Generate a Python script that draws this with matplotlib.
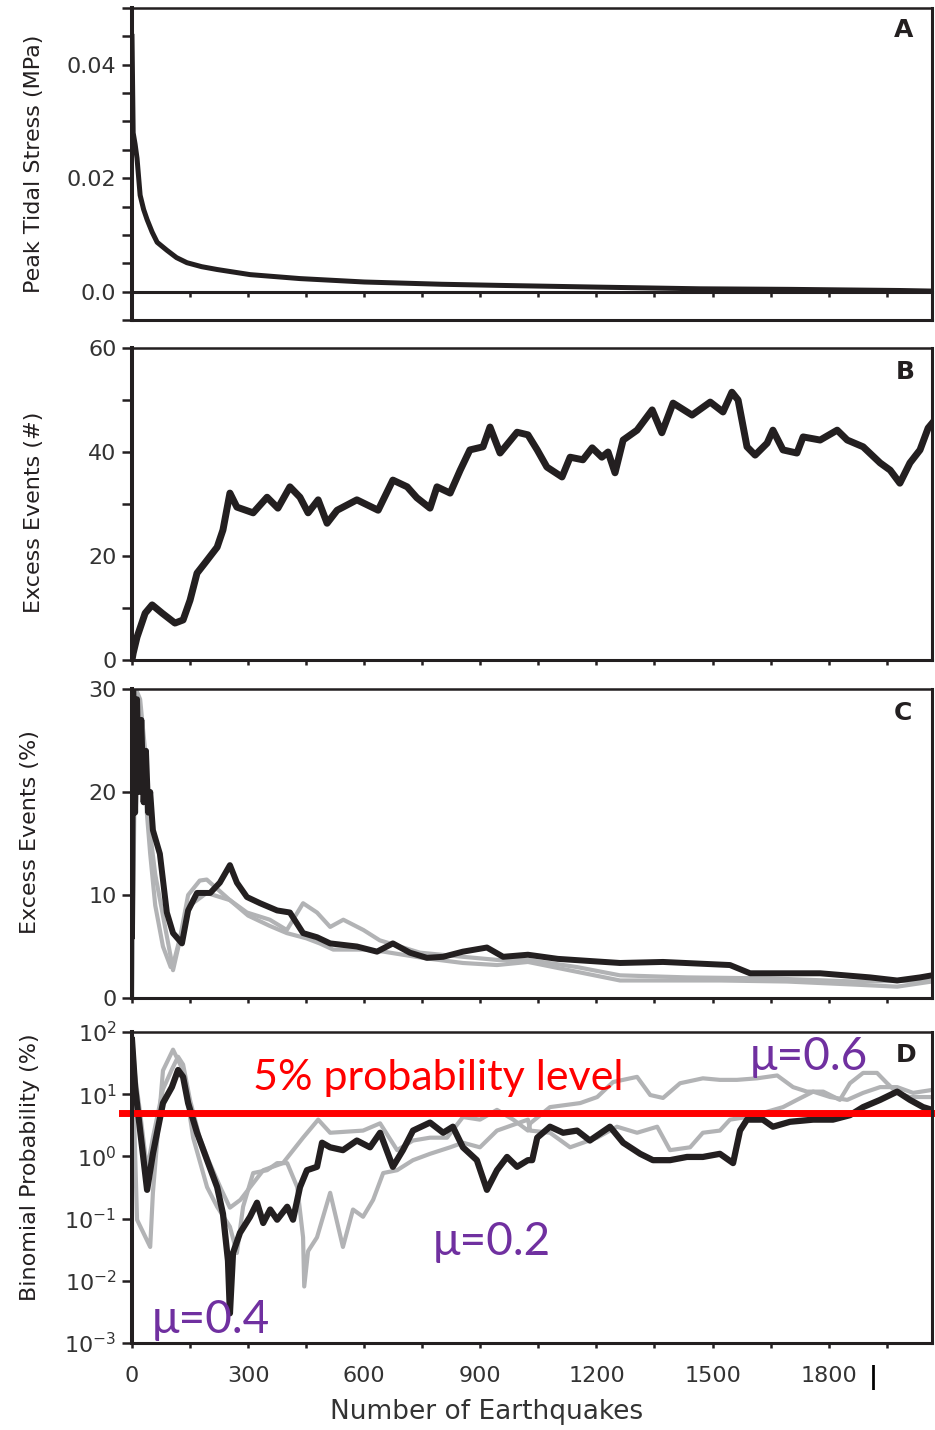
import numpy as np
import matplotlib
matplotlib.use("Agg")
import matplotlib.pyplot as plt
from matplotlib.ticker import NullLocator

# ---- data ----
# A: peak tidal stress (MPa) vs number of earthquakes
a_n = [0, 3, 8, 13, 21, 30, 39, 52, 65, 90, 115, 142, 180, 220, 305, 434,
       600, 800, 950, 1200, 1468, 1700, 1985, 2067]
a_stress = [0.045, 0.028, 0.026, 0.0235, 0.017, 0.0145, 0.0127, 0.0105, 0.0087,
            0.0073, 0.006, 0.0051, 0.0044, 0.0039, 0.003, 0.0023, 0.0017, 0.0013,
            0.0011, 0.0008, 0.0005, 0.0004, 0.0002, 0.0001]

# B: excess events (#)
b_n = [0, 3, 13, 34, 52, 78, 111, 132, 150, 168, 189, 220, 235, 253, 271, 313,
       349, 377, 408, 434, 455, 481, 504, 530, 581, 636, 674, 711, 736, 770, 788,
       822, 848, 873, 907, 925, 951, 995, 1023, 1047, 1072, 1111, 1132, 1165, 1189,
       1214, 1230, 1248, 1269, 1305, 1344, 1369, 1398, 1447, 1494, 1527, 1550, 1566,
       1589, 1610, 1641, 1656, 1682, 1718, 1734, 1778, 1822, 1848, 1889, 1933, 1959,
       1984, 2010, 2036, 2057, 2067]
b_excess = [0, 1.3, 4.4, 9.0, 10.6, 9.0, 7.1, 7.7, 11.5, 16.7, 18.7, 21.7, 25, 32.1,
            29.4, 28.3, 31.3, 29.2, 33.3, 31.3, 28.3, 30.8, 26.3, 28.8, 30.8, 28.8,
            34.6, 33.3, 31.2, 29.2, 33.3, 32.1, 36.5, 40.4, 41, 44.8, 39.8, 43.8, 43.3,
            40.4, 37.1, 35.2, 39, 38.5, 40.8, 39, 40, 36, 42.3, 44.2, 48.1, 43.7, 49.4,
            47.1, 49.6, 47.7, 51.5, 50, 41, 39.4, 41.7, 44.2, 40.4, 39.8, 42.9, 42.3,
            44.2, 42.3, 41, 37.9, 36.5, 34, 37.9, 40.4, 44.6, 45.5]

# C: excess events (%) - black (mu=0.4) and two grey curves
c_n = [0, 3, 8, 13, 18, 24, 30, 36, 42, 47, 54, 72, 90, 106, 129, 145, 168, 202,
       227, 253, 271, 297, 331, 375, 408, 442, 478, 512, 581, 633, 674, 718, 762,
       804, 855, 917, 959, 1023, 1100, 1180, 1261, 1372, 1545, 1597, 1778, 1907,
       1977, 2036, 2067]
c_pct = [6, 30, 18, 29, 20, 27, 19, 24, 18, 20, 16.3, 14, 8.3, 6.3, 5.3, 8.5, 10.2,
         10.2, 11.2, 12.9, 11.2, 9.8, 9.2, 8.5, 8.3, 6.3, 5.9, 5.3, 5.0, 4.5, 5.3,
         4.4, 3.9, 4.0, 4.5, 4.9, 4.0, 4.2, 3.8, 3.6, 3.4, 3.5, 3.2, 2.4, 2.4, 2.0,
         1.7, 2.0, 2.2]
c_grey1_n = [0, 5, 10, 21, 34, 47, 60, 80, 100, 106, 120, 145, 175, 193, 253, 297,
             356, 400, 442, 478, 512, 546, 598, 640, 692, 744, 855, 943, 1023, 1150,
             1261, 1434, 1649, 1868, 2067]
c_grey1 = [0, 15, 30, 29, 24, 16, 12, 8, 4, 2.7, 5, 10, 11.4, 11.5, 9.5, 8.3, 7.6,
           6.6, 9.2, 8.3, 6.9, 7.6, 6.6, 5.6, 5.0, 4.4, 4.0, 3.7, 3.7, 3.0, 2.2, 2.0,
           1.9, 1.6, 1.7]
c_grey2_n = [0, 5, 10, 21, 34, 47, 60, 80, 100, 106, 125, 150, 193, 253, 300, 356,
             400, 450, 485, 520, 600, 650, 750, 855, 943, 1023, 1261, 1520, 1692,
             1868, 1977, 2067]
c_grey2 = [0, 20, 28, 26, 20, 14, 9, 5, 3, 3.2, 6, 9, 10.2, 9.5, 8.0, 7.0, 6.3, 5.8,
           5.3, 4.7, 4.7, 4.5, 3.9, 3.4, 3.2, 3.5, 1.7, 1.7, 1.6, 1.3, 1.1, 1.6]

# D: binomial probability (%)
d_n = [0, 8, 21, 39, 54, 80, 103, 119, 132, 145, 168, 194, 220, 235, 248, 253, 261,
       279, 305, 323, 339, 357, 375, 401, 416, 434, 452, 478, 491, 512, 545, 581,
       615, 641, 674, 700, 726, 770, 804, 829, 855, 891, 917, 943, 969, 995, 1023,
       1034, 1047, 1080, 1114, 1150, 1183, 1235, 1269, 1313, 1346, 1390, 1434, 1475,
       1519, 1553, 1571, 1589, 1630, 1656, 1700, 1760, 1811, 1855, 1889, 1933, 1977,
       2010, 2044, 2067]
d_prob = [74, 13, 2.6, 0.29, 1.1, 7.2, 13, 24.5, 19, 7.2, 2.4, 0.87, 0.32, 0.12,
          0.021, 0.003, 0.028, 0.059, 0.107, 0.18, 0.085, 0.14, 0.096, 0.155, 0.096,
          0.32, 0.6, 0.68, 1.66, 1.4, 1.26, 1.8, 1.4, 2.4, 0.68, 1.26, 2.6, 3.5, 2.4,
          3.0, 1.4, 0.87, 0.29, 0.6, 0.98, 0.68, 0.87, 0.87, 2.0, 3.0, 2.4, 2.6, 1.8,
          3.0, 1.66, 1.1, 0.87, 0.87, 0.98, 0.98, 1.1, 0.78, 2.6, 3.9, 3.9, 3.0, 3.6,
          3.9, 3.9, 4.6, 6.2, 8.1, 11, 8.1, 6.2, 5.6]
d_hi_n = [0, 8, 21, 39, 54, 80, 103, 119, 132, 150, 175, 200, 230, 253, 280, 339,
          390, 442, 481, 512, 597, 641, 685, 726, 770, 814, 855, 899, 943, 985, 1023,
          1029, 1080, 1158, 1202, 1243, 1305, 1339, 1372, 1416, 1475, 1519, 1563, 1615,
          1667, 1708, 1744, 1786, 1829, 1855, 1889, 1925, 1951, 1977, 2010, 2067]
d_hi = [90, 20, 5, 0.6, 2, 12, 25, 40, 30, 8, 2, 0.8, 0.3, 0.15, 0.2, 0.6, 0.78, 2.0,
        3.9, 2.4, 2.6, 3.4, 1.26, 1.8, 2.0, 2.0, 4.3, 3.9, 5.6, 3.9, 2.6, 3.4, 6.2,
        7.2, 9, 15.7, 19, 9.7, 8.7, 15, 18, 17, 17, 18, 20, 13, 11, 11, 8.1, 15, 22,
        22, 15, 10.5, 9, 9]
d_lo_n = [0, 13, 47, 54, 80, 106, 132, 158, 194, 220, 253, 271, 287, 313, 349, 375,
          401, 427, 442, 445, 455, 478, 512, 545, 571, 597, 623, 649, 685, 726, 770,
          822, 855, 899, 943, 1023, 1029, 1080, 1132, 1202, 1253, 1305, 1357, 1390,
          1442, 1475, 1519, 1545, 1589, 1630, 1682, 1718, 1760, 1804, 1848, 1889,
          1933, 1977, 2018, 2067]
d_lo = [60, 0.096, 0.035, 0.26, 24, 52, 24, 2, 0.32, 0.155, 0.074, 0.028, 0.155,
        0.54, 0.6, 0.78, 0.78, 0.32, 0.05, 0.0081, 0.03, 0.05, 0.26, 0.035, 0.14,
        0.107, 0.2, 0.54, 0.6, 0.87, 1.1, 1.4, 1.66, 1.4, 2.6, 3.9, 2.6, 2.4, 1.4,
        2.0, 3.0, 2.4, 3.0, 1.26, 1.4, 2.4, 2.6, 3.9, 4.3, 5, 6.2, 8.1, 11, 9, 8.1,
        10.5, 13, 13, 10.5, 11.7]

level_5pct = 5.0

x_ticks = np.arange(0, 2001, 150)
x_labels = [0, 300, 600, 900, 1200, 1500, 1800]

INK = '#231f20'
GREY = '#b2b3b5'
TXT = '#333333'
PURPLE = '#7030a0'

fig = plt.figure(figsize=(9.35, 14.3), dpi=100)
W, H = 935, 1430
left, right = 132, 932
rows = [(8, 320), (348, 660), (689, 998), (1032, 1343)]
axes = [fig.add_axes([left / W, 1 - bot / H, (right - left) / W, (bot - top) / H])
        for top, bot in rows]


def style(ax):
    for s in ax.spines.values():
        s.set_color(INK)
    ax.spines['left'].set_linewidth(2.9)
    ax.spines['top'].set_linewidth(1.8)
    ax.spines['right'].set_linewidth(2.2)
    ax.spines['bottom'].set_linewidth(2.2)
    ax.tick_params(axis='y', direction='out', length=7.2, width=1.8, color=INK,
                   labelsize=16, labelcolor=TXT, pad=4)
    ax.tick_params(axis='x', direction='out', length=3.5, width=1.8, color=INK,
                   labelbottom=False)
    ax.set_xlim(0, 2067)
    ax.set_xticks(x_ticks)


for ax in axes:
    style(ax)

# A
ax = axes[0]
ax.plot(a_n, a_stress, color=INK, lw=3.6, solid_joinstyle='round')
ax.set_ylim(-0.005, 0.05)
a_ticks = np.arange(-0.005, 0.0501, 0.005)
a_named = {0.0: '0.0', 0.02: '0.02', 0.04: '0.04'}
ax.set_yticks(a_ticks)
ax.set_yticklabels([a_named.get(round(v, 3), '') for v in a_ticks])
ax.spines['bottom'].set_position(('data', 0))
ax.plot([0, 1], [0, 0], transform=ax.transAxes, color=INK, lw=2.2, clip_on=False)
ax.set_ylabel('Peak Tidal Stress (MPa)', fontsize=16, color=INK)
ax.yaxis.set_label_coords(-0.11, 0.5)
ax.text(0.964, 0.93, 'A', transform=ax.transAxes, ha='center', va='center',
        fontsize=18, fontweight='bold', color=INK)

# B
ax = axes[1]
ax.plot(b_n, b_excess, color=INK, lw=5, solid_joinstyle='round')
ax.set_ylim(0, 60)
ax.set_yticks(np.arange(0, 61, 10))
ax.set_yticklabels(['0', '', '20', '', '40', '', '60'])
ax.set_ylabel('Excess Events (#)', fontsize=16, color=INK)
ax.yaxis.set_label_coords(-0.11, 0.474)
ax.text(0.966, 0.923, 'B', transform=ax.transAxes, ha='center', va='center',
        fontsize=18, fontweight='bold', color=INK)

# C
ax = axes[2]
ax.plot(c_grey1_n, c_grey1, color=GREY, lw=3, solid_joinstyle='round')
ax.plot(c_grey2_n, c_grey2, color=GREY, lw=3, solid_joinstyle='round')
ax.plot(c_n, c_pct, color=INK, lw=4.3, solid_joinstyle='round')
ax.set_ylim(0, 30)
ax.set_yticks([0, 10, 20, 30])
ax.set_ylabel('Excess Events (%)', fontsize=16, color=INK)
ax.yaxis.set_label_coords(-0.115, 0.537)
ax.text(0.964, 0.922, 'C', transform=ax.transAxes, ha='center', va='center',
        fontsize=18, fontweight='bold', color=INK)

# D
ax = axes[3]
ax.set_yscale('log')
ax.plot(d_hi_n, d_hi, color=GREY, lw=3, solid_joinstyle='round')
ax.plot(d_lo_n, d_lo, color=GREY, lw=3, solid_joinstyle='round')
ax.plot(d_n, d_prob, color=INK, lw=4.5, solid_joinstyle='round')
ax.axhline(level_5pct, xmin=-0.0125, xmax=1.004, color='#ff0000', lw=5, clip_on=False)
ax.set_ylim(1e-3, 1e2)
ax.yaxis.set_minor_locator(NullLocator())
ax.set_yticks([1e-3, 1e-2, 1e-1, 1, 10, 100])
ax.set_yticklabels([r'$10^{-3}$', r'$10^{-2}$', r'$10^{-1}$', r'$10^{0}$',
                    r'$10^{1}$', r'$10^{2}$'])
ax.set_xlim(0, 2067)
ax.tick_params(axis='x', labelbottom=True, labelsize=16, labelcolor=TXT, pad=13)
ax.set_xticklabels([str(v) if v in x_labels else '' for v in x_ticks])
ax.set_ylabel('Binomial Probability (%)', fontsize=16, color=INK)
ax.yaxis.set_label_coords(-0.115, 0.566)
ax.set_xlabel('Number of Earthquakes', fontsize=19, color=TXT)
ax.xaxis.set_label_coords(0.443, -0.18)
ax.text(0.968, 0.926, 'D', transform=ax.transAxes, ha='center', va='center',
        fontsize=18, fontweight='bold', color=INK)

ax.text(313, 11.7, '5% probability level', color='#ff0000', fontsize=31,
        family='Lato', va='baseline')
ax.text(1597, 24.5, 'μ=0.6', color=PURPLE, fontsize=33, family='Lato', va='baseline')
ax.text(778, 0.026, 'μ=0.2', color=PURPLE, fontsize=33, family='Lato', va='baseline')
ax.text(52, 0.00145, 'μ=0.4', color=PURPLE, fontsize=33, family='Lato', va='baseline',
        clip_on=False)

fig.text(873 / W, 1 - 1378 / H, '|', fontsize=18, fontweight='bold', color='black',
         ha='center', va='center')

fig.savefig('out.png', dpi=100)
